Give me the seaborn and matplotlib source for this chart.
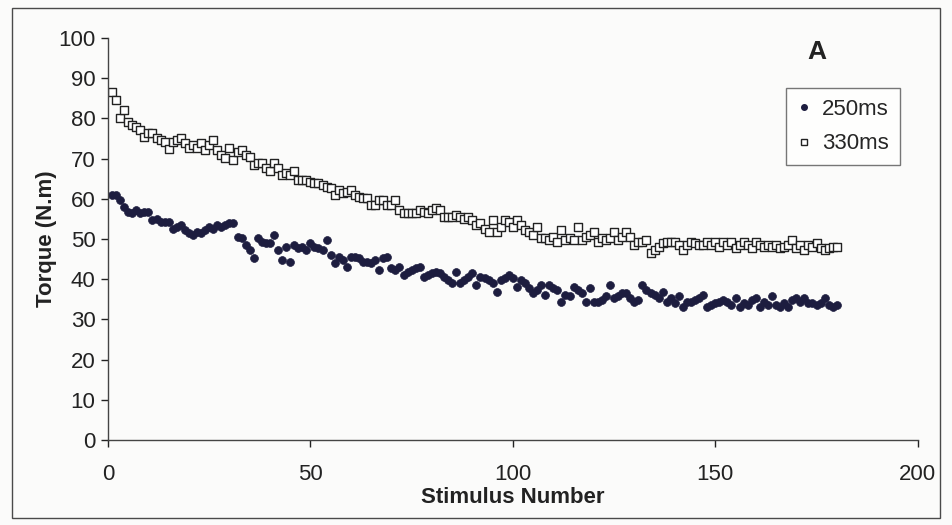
import numpy as np
import pandas as pd
import matplotlib
matplotlib.use("Agg")
import matplotlib.pyplot as plt
import seaborn as sns
from matplotlib.patches import Rectangle
from matplotlib.lines import Line2D

# ---- data ----
stim_250 = list(range(1, 181))
torque_250 = [
    61.0, 61.0, 59.7, 58.0, 56.8, 56.4, 57.2, 56.4, 56.8, 56.8,
    54.7, 55.1, 54.3, 54.3, 54.3, 52.6, 53.1, 53.5, 52.2, 51.4,
    51.0, 51.8, 51.4, 52.2, 53.1, 52.6, 53.5, 53.1, 53.5, 54.0,
    54.0, 50.6, 50.2, 48.5, 47.3, 45.3, 50.2, 49.3, 49.0, 49.0,
    51.0, 47.3, 44.8, 48.1, 44.4, 48.5, 47.7, 48.1, 47.3, 49.0,
    48.1, 47.7, 47.3, 49.8, 46.0, 44.0, 45.6, 44.8, 43.1, 45.6,
    45.6, 45.2, 44.4, 44.4, 44.0, 44.8, 42.3, 45.2, 45.6, 42.7,
    42.3, 43.1, 41.0, 41.9, 42.3, 42.7, 43.1, 40.6, 41.0, 41.5,
    41.9, 41.5, 40.6, 39.8, 39.0, 41.9, 39.0, 39.8, 40.6, 41.5,
    38.6, 40.6, 40.3, 39.8, 39.0, 36.9, 39.8, 40.3, 41.0,
    40.3, 38.1, 39.8, 39.0, 37.8, 36.5, 37.3, 38.6, 36.1, 38.6,
    37.8, 37.3, 34.4, 36.1, 35.7, 38.1, 37.3, 36.5, 34.4, 37.8,
    34.4, 34.4, 34.8, 35.7, 38.6, 35.3, 35.7, 36.5, 36.5, 35.3,
    34.4, 34.8, 38.6, 37.3, 36.5, 36.1, 35.3, 36.9, 34.4, 35.3,
    34.0, 35.7, 33.2, 34.4, 34.4, 34.8, 35.3, 36.1, 33.2,
    33.6, 34.0, 34.4, 34.8, 34.4, 33.6, 35.3, 33.2, 34.0, 33.6,
    34.8, 35.3, 33.2, 34.4, 33.6, 35.7, 33.6, 33.2, 34.0, 33.2,
    34.8, 35.3, 34.4, 35.3, 34.0, 34.0, 33.6, 34.0, 35.3, 33.6,
    33.2, 33.6,
]
stim_330 = list(range(1, 181))
torque_330 = [
    86.6, 84.6, 80.0, 82.1, 79.2, 78.4, 77.9, 77.1, 75.4, 76.3,
    76.3, 75.1, 74.6, 74.2, 72.5, 74.2, 74.6, 75.1, 73.9, 72.6,
    73.4, 72.6, 73.8, 72.1, 73.4, 74.6, 72.1, 70.9, 70.1, 72.6,
    69.7, 71.7, 72.1, 70.9, 70.5, 68.4, 68.9, 68.9, 67.6, 66.8,
    68.9, 67.6, 65.9, 66.4, 65.9, 66.8, 64.7, 64.7, 64.7,
    64.3, 63.9, 63.9, 63.4, 63.0, 62.6, 60.9, 62.2, 61.4, 61.8,
    62.2, 60.9, 60.5, 60.2, 60.2, 58.4, 58.4, 59.7, 59.7, 58.4,
    58.4, 59.7, 57.2, 56.4, 56.4, 56.4, 56.4, 57.2, 56.8, 56.4,
    57.2, 57.7, 57.2, 55.5, 55.5, 55.5, 56.0, 55.5, 55.1, 55.5,
    54.7, 53.5, 54.0, 52.6, 51.8, 54.7, 51.8, 53.1, 54.7,
    54.3, 53.1, 54.7, 53.5, 52.2, 51.8, 51.0, 53.1, 50.2, 50.2,
    49.8, 50.6, 49.3, 52.2, 49.8, 50.2, 49.8, 53.1, 49.8, 50.6,
    51.0, 51.8, 49.3, 50.2, 49.8, 50.2, 51.8, 49.8, 50.6, 51.8,
    50.6, 48.5, 49.3, 49.3, 49.8, 46.5, 47.3, 48.1, 49.0, 49.3,
    49.3, 49.3, 48.5, 47.3, 48.5, 49.3, 49.0, 48.5, 48.5, 49.3,
    48.5, 49.3, 48.1, 49.3, 48.5, 49.3, 47.7, 48.5, 49.3, 48.5,
    47.7, 49.3, 48.5, 48.1, 48.5, 48.1, 48.5, 47.7, 48.1, 48.5,
    49.8, 47.7, 48.5, 47.3, 48.5, 48.1, 48.9, 47.7, 47.3, 47.7,
    48.1, 48.1,
]
x_ticks = [0, 50, 100, 150, 200]
y_ticks = [0, 10, 20, 30, 40, 50, 60, 70, 80, 90, 100]
series_labels = ["250ms", "330ms"]

df = pd.DataFrame({
    "Stimulus": stim_250 + stim_330,
    "Torque": torque_250 + torque_330,
    "Series": [series_labels[0]] * len(stim_250) + [series_labels[1]] * len(stim_330),
})

sns.set_theme(style="white")
plt.rcParams["font.family"] = ["Liberation Sans", "DejaVu Sans"]

bg = "#fbfbfa"
fig = plt.figure(figsize=(9.52, 5.25), dpi=100, facecolor=bg)
ax = fig.add_axes([0.1134, 0.1619, 0.8506, 0.7657], facecolor=bg)

# outer chart frame
fig.patches.append(Rectangle((12 / 952, 1 - 518 / 525), 928 / 952, 510 / 525,
                             transform=fig.transFigure, fill=False,
                             edgecolor="#4a4a4a", linewidth=1.0))

sns.scatterplot(data=df[df.Series == "250ms"], x="Stimulus", y="Torque", ax=ax,
                marker="o", s=32, color="#1d1d3f", edgecolor="#1d1d3f",
                linewidth=0.5, legend=False)
sns.scatterplot(data=df[df.Series == "330ms"], x="Stimulus", y="Torque", ax=ax,
                marker="s", s=28, facecolor="white", edgecolor="#222222",
                linewidth=1.0, legend=False)

ax.set_xlim(0, 200)
ax.set_ylim(0, 100)
ax.set_xticks(x_ticks)
ax.set_yticks(y_ticks)
ax.tick_params(axis="both", labelsize=16, colors="#222222", direction="out",
               length=5, width=1, bottom=True, left=True, pad=4)
ax.tick_params(axis="x", pad=12)
for s in ["top", "right"]:
    ax.spines[s].set_visible(False)
for s in ["left", "bottom"]:
    ax.spines[s].set_color("#444444")
    ax.spines[s].set_linewidth(1.0)

ax.set_xlabel("Stimulus Number", fontsize=16, fontweight="bold", color="#222222", labelpad=2)
ax.set_ylabel("Torque (N.m)", fontsize=16, fontweight="bold", color="#222222", labelpad=1)

ax.text(0.875, 0.995, "A", transform=ax.transAxes, fontsize=19, fontweight="bold",
        color="#222222", ha="center", va="top")

handles = [
    Line2D([], [], marker="o", linestyle="none", markersize=4, color="#1d1d3f"),
    Line2D([], [], marker="s", linestyle="none", markersize=4.5,
           markerfacecolor="white", markeredgecolor="#222222"),
]
leg = ax.legend(handles, series_labels, loc="upper right", bbox_to_anchor=(0.978, 0.876),
                borderaxespad=0, fontsize=16, frameon=True, fancybox=False,
                edgecolor="#555555", handlelength=0.6, handletextpad=0.5,
                borderpad=0.5, labelspacing=0.6, facecolor="white")
leg.get_frame().set_linewidth(1.0)

fig.savefig("out.png", dpi=100, facecolor=bg)
